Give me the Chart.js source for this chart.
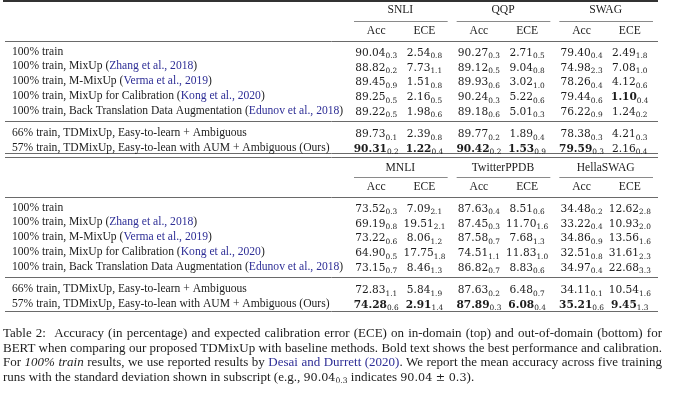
<!DOCTYPE html>
<html><head><meta charset="utf-8">
<script src="https://cdn.jsdelivr.net/npm/chart.js@4.4.1/dist/chart.umd.min.js"></script>
<style>
html,body{margin:0;padding:0;background:#fff;}
#wrap{position:relative;width:680px;height:405px;overflow:hidden;background:#fff;}
canvas{position:absolute;left:0;}
#c1{top:0}
#c2{top:156px}
#cap{position:absolute;left:3px;top:326px;width:659px;font-family:"Liberation Serif",serif;font-size:13px;line-height:14.6px;color:#1c1c1c;}
.j{text-align:justify;text-align-last:justify;white-space:nowrap;}
.l{white-space:nowrap;}
.cite{color:#2e2e96}
.m{font-family:"DejaVu Serif",serif;font-size:11.2px}
.m sub{font-size:7.6px;vertical-align:-2px;line-height:0}
</style></head><body>
<div id="wrap">
<canvas id="c1" width="680" height="158"></canvas>
<canvas id="c2" width="680" height="158"></canvas>
<div id="cap">
<div class="j">Table 2: &nbsp;Accuracy (in percentage) and expected calibration error (ECE) on in-domain (top) and out-of-domain (bottom) for</div>
<div class="j">BERT when comparing our proposed TDMixUp with baseline methods. Bold text shows the best performance and calibration.</div>
<div class="j">For <i>100% train</i> results, we use reported results by <span class="cite">Desai and Durrett (2020)</span>. We report the mean accuracy across five training</div>
<div class="l">runs with the standard deviation shown in subscript (e.g., <span class="m">90.04<sub>0.3</sub></span> indicates <span class="m">90.04 ± 0.3</span>).</div>
</div>
</div>
<script>
// ---- data ----
const methods = [
  "100% train",
  "100% train, MixUp",
  "100% train, M-MixUp",
  "100% train, MixUp for Calibration",
  "100% train, Back Translation Data Augmentation",
  "66% train, TDMixUp, Easy-to-learn + Ambiguous",
  "57% train, TDMixUp, Easy-to-lean with AUM + Ambiguous (Ours)"
];
const citations = ["", "Zhang et al., 2018", "Verma et al., 2019", "Kong et al., 2020", "Edunov et al., 2018", "", ""];
const metrics = ["Acc", "ECE"];
const topDatasets = ["SNLI", "QQP", "SWAG"];
const bottomDatasets = ["MNLI", "TwitterPPDB", "HellaSWAG"];

const snliAcc   = [90.04, 88.82, 89.45, 89.25, 89.22, 89.73, 90.31];
const snliAccSd = [0.3, 0.2, 0.9, 0.5, 0.5, 0.1, 0.2];
const snliEce   = [2.54, 7.73, 1.51, 2.16, 1.98, 2.39, 1.22];
const snliEceSd = [0.8, 1.1, 0.8, 0.5, 0.6, 0.8, 0.4];
const qqpAcc    = [90.27, 89.12, 89.93, 90.24, 89.18, 89.77, 90.42];
const qqpAccSd  = [0.3, 0.5, 0.6, 0.3, 0.6, 0.2, 0.2];
const qqpEce    = [2.71, 9.04, 3.02, 5.22, 5.01, 1.89, 1.53];
const qqpEceSd  = [0.5, 0.8, 1.0, 0.6, 0.3, 0.4, 0.9];
const swagAcc   = [79.40, 74.98, 78.26, 79.44, 76.22, 78.38, 79.59];
const swagAccSd = [0.4, 2.3, 0.4, 0.6, 0.9, 0.3, 0.3];
const swagEce   = [2.49, 7.08, 4.12, 1.10, 1.24, 4.21, 2.16];
const swagEceSd = [1.8, 1.0, 0.6, 0.4, 0.2, 0.3, 0.4];

const mnliAcc   = [73.52, 69.19, 73.22, 64.90, 73.15, 72.83, 74.28];
const mnliAccSd = [0.3, 0.8, 0.6, 0.5, 0.7, 1.1, 0.6];
const mnliEce   = [7.09, 19.51, 8.06, 17.75, 8.46, 5.84, 2.91];
const mnliEceSd = [2.1, 2.1, 1.2, 1.8, 1.3, 1.9, 1.4];
const twAcc     = [87.63, 87.45, 87.58, 74.51, 86.82, 87.63, 87.89];
const twAccSd   = [0.4, 0.3, 0.7, 1.1, 0.7, 0.2, 0.3];
const twEce     = [8.51, 11.70, 7.68, 11.83, 8.83, 6.48, 6.08];
const twEceSd   = [0.6, 1.6, 1.3, 1.0, 0.6, 0.7, 0.4];
const hsAcc     = [34.48, 33.22, 34.86, 32.51, 34.97, 34.11, 35.21];
const hsAccSd   = [0.2, 0.4, 0.9, 0.8, 0.4, 0.1, 0.6];
const hsEce     = [12.62, 10.93, 13.56, 31.61, 22.68, 10.54, 9.45];
const hsEceSd   = [2.8, 2.0, 1.6, 2.3, 3.3, 1.6, 1.3];

// ---- layout / style ----
const TEXT = "#1c1c1c", CITE = "#2e2e96";
const LABEL_FONT = '11.6px "Liberation Serif"';
const NUM = 10.6, SUB = 7.4;
const GROUP_GAP = 0.5;            // extra row units between the two row groups
const rowPos = i => i + (i >= 5 ? GROUP_GAP : 0);

function tablePlugin(names, cfg) {
  return {
    id: 'tbl',
    afterDraw(chart) {
      const ctx = chart.ctx, xs = chart.scales.x, ys = chart.scales.y;
      const L = 5, R = chart.chartArea.right + 1;
      const hl = (v, x0, x1, w, col) => {
        const y = Math.round(ys.getPixelForValue(v)) + (w % 2 ? 0.5 : 0);
        ctx.save(); ctx.strokeStyle = col; ctx.lineWidth = w;
        ctx.beginPath(); ctx.moveTo(x0, y); ctx.lineTo(x1, y); ctx.stroke(); ctx.restore();
      };
      ctx.save();
      ctx.fillStyle = TEXT;
      // rules
      if (cfg.topRule !== undefined) hl(cfg.topRule, 3, R, 2, "#333");
      hl(-0.71, L, R, 1, "#6a6a6a");
      hl(4.73, L, R, 1, "#6a6a6a");
      cfg.endRules.forEach(v => hl(v, L, R, 1, "#6a6a6a"));
      // group headers + cmidrules
      ctx.font = LABEL_FONT; ctx.textAlign = 'center'; ctx.textBaseline = 'middle';
      names.forEach((n, g) => {
        ctx.fillText(n, xs.getPixelForValue(g), ys.getPixelForValue(cfg.head1));
        hl(-2.09, xs.getPixelForValue(g - 0.5) + 5, xs.getPixelForValue(g + 0.5) - 4, 1, "#8a8a8a");
      });
      // metric headers and cells
      chart.data.datasets.forEach((ds, di) => {
        const meta = chart.getDatasetMeta(di);
        const x = meta.data[0].x;
        ctx.font = LABEL_FONT; ctx.textAlign = 'center'; ctx.textBaseline = 'middle';
        ctx.fillText(metrics[ds.metric], x, ys.getPixelForValue(-1.39));
        const best = ds.metric === 0 ? Math.max(...ds.mean) : Math.min(...ds.mean);
        ctx.textAlign = 'left'; ctx.textBaseline = 'alphabetic';
        meta.data.forEach((el, i) => {
          const main = ds.mean[i].toFixed(2), sub = ds.sd[i].toFixed(1);
          const mf = (ds.mean[i] === best ? 'bold ' : '') + NUM + 'px "DejaVu Serif"';
          const sf = SUB + 'px "DejaVu Serif"';
          ctx.font = mf; const wm = ctx.measureText(main).width;
          ctx.font = sf; const ws = ctx.measureText(sub).width;
          const x0 = el.x - (wm + ws) / 2;
          ctx.font = mf; ctx.fillText(main, x0, el.y + 4.3);
          ctx.font = sf; ctx.fillText(sub, x0 + wm, el.y + 6.8);
        });
      });
      // row labels
      ctx.font = LABEL_FONT; ctx.textAlign = 'left'; ctx.textBaseline = 'middle';
      methods.forEach((m, i) => {
        const y = ys.getPixelForValue(rowPos(i));
        let x = 12;
        ctx.fillStyle = TEXT; ctx.fillText(m, x, y); x += ctx.measureText(m).width;
        if (citations[i]) {
          ctx.fillText(" (", x, y); x += ctx.measureText(" (").width;
          ctx.fillStyle = CITE; ctx.fillText(citations[i], x, y); x += ctx.measureText(citations[i]).width;
          ctx.fillStyle = TEXT; ctx.fillText(")", x, y);
        }
      });
      ctx.restore();
    }
  };
}

function makeTable(id, names, cols, cfg) {
  const datasets = cols.map(c => ({
    label: names[c.g] + " " + metrics[c.s],
    metric: c.s, mean: c.mean, sd: c.sd,
    data: c.mean.map((v, i) => ({ x: c.g + (c.s - 0.5) * 0.47, y: rowPos(i) })),
    pointRadius: 0, pointHoverRadius: 0, showLine: false
  }));
  return new Chart(document.getElementById(id), {
    type: 'scatter',
    data: { datasets },
    options: {
      responsive: false, animation: false, devicePixelRatio: 1, events: [],
      layout: { padding: { left: 349, right: 23, top: 0, bottom: 0 } },
      plugins: { legend: { display: false }, tooltip: { enabled: false } },
      scales: {
        x: { type: 'linear', min: -0.5, max: 2.5, display: false },
        y: { type: 'linear', min: -3.48, max: 7.2, reverse: true, display: false }
      }
    },
    plugins: [tablePlugin(names, cfg)]
  });
}

makeTable('c1', topDatasets, [
  { g: 0, s: 0, mean: snliAcc, sd: snliAccSd }, { g: 0, s: 1, mean: snliEce, sd: snliEceSd },
  { g: 1, s: 0, mean: qqpAcc, sd: qqpAccSd },   { g: 1, s: 1, mean: qqpEce, sd: qqpEceSd },
  { g: 2, s: 0, mean: swagAcc, sd: swagAccSd }, { g: 2, s: 1, mean: swagEce, sd: swagEceSd }
], { topRule: -3.44, head1: -2.8, endRules: [6.86, 7.1] });

makeTable('c2', bottomDatasets, [
  { g: 0, s: 0, mean: mnliAcc, sd: mnliAccSd }, { g: 0, s: 1, mean: mnliEce, sd: mnliEceSd },
  { g: 1, s: 0, mean: twAcc, sd: twAccSd },     { g: 1, s: 1, mean: twEce, sd: twEceSd },
  { g: 2, s: 0, mean: hsAcc, sd: hsAccSd },     { g: 2, s: 1, mean: hsEce, sd: hsEceSd }
], { head1: -2.67, endRules: [7.02] });
</script>
</body></html>
